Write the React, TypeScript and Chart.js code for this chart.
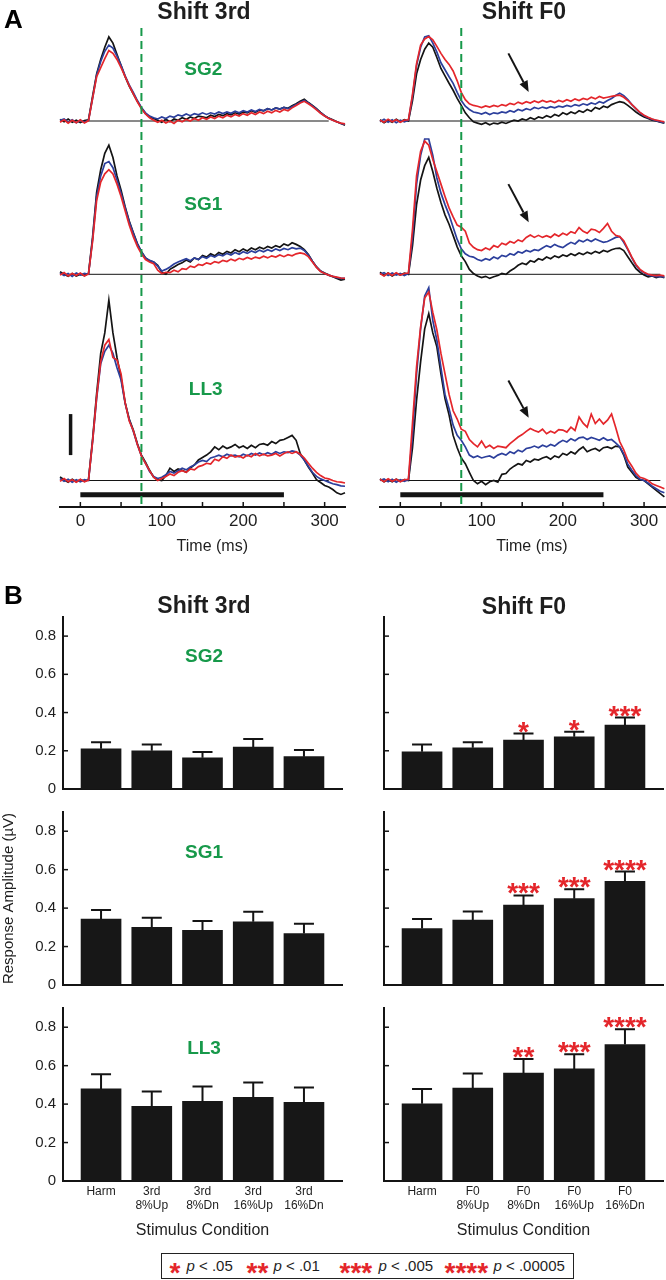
import React, { useEffect, useRef } from "react";
import { Chart, registerables } from "chart.js";

Chart.register(...registerables);

// ---------------- data ----------------
const TIME_MS = [-25, -20, -15, -10, -5, 0, 5, 10, 15, 20, 25, 30, 35, 40, 45, 50, 55, 60, 65, 70, 75, 80, 85, 90, 95, 100, 105, 110, 115, 120, 125, 130, 135, 140, 145, 150, 155, 160, 165, 170, 175, 180, 185, 190, 195, 200, 205, 210, 215, 220, 225, 230, 235, 240, 245, 250, 255, 260, 265, 270, 275, 280, 285, 290, 295, 300, 305, 310, 315, 320, 325];
const TIME_TICKS = [0, 50, 100, 150, 200, 250, 300];
const MARKER_MS = 75;
const STIM_MS = [0, 250];
const STIM_LEVEL_UV = -0.35;
const SCALE_BAR_MS = -12;
const SCALE_BAR_UV = [0.62, 1.62];
const BASELINE_3RD_MS = [0, 305];
const BASELINE_F0_MS = [0, 320];

// Shift 3rd – SG2
const SG2_3RD_BLACK = [0.04, -0.02, 0.05, -0.03, 0.02, -0.04, 0.01, 0.03, 0.6, 1.15,
  1.5, 1.8, 2.05, 1.9, 1.62, 1.35, 1.08, 0.85, 0.66, 0.48,
  0.32, 0.18, 0.1, 0.06, 0.02, -0.03, 0.04, -0.02, 0.05, 0.02,
  0.08, 0.04, 0.1, 0.06, 0.12, 0.1, 0.08, 0.14, 0.11, 0.16,
  0.13, 0.18, 0.15, 0.2, 0.17, 0.22, 0.2, 0.25, 0.21, 0.27,
  0.25, 0.3, 0.27, 0.32, 0.29, 0.33, 0.31, 0.37, 0.42, 0.48,
  0.53, 0.45, 0.38, 0.3, 0.21, 0.13, 0.07, 0.03, -0.02, -0.06,
  -0.1];
const SG2_3RD_BLUE = [0.02, 0.05, -0.03, 0.03, -0.04, 0.02, -0.03, 0.02, 0.55, 1.12,
  1.45, 1.7, 1.85, 1.78, 1.58, 1.36, 1.1, 0.88, 0.7, 0.5,
  0.33, 0.2, 0.12, 0.08, 0.05, 0.1, 0.06, 0.12, 0.09, 0.15,
  0.12, 0.17, 0.13, 0.18, 0.15, 0.2, 0.16, 0.2, 0.17, 0.22,
  0.18, 0.22, 0.19, 0.24, 0.2, 0.25, 0.22, 0.27, 0.23, 0.28,
  0.25, 0.3, 0.27, 0.32, 0.29, 0.33, 0.3, 0.35, 0.4, 0.46,
  0.5, 0.44, 0.37, 0.29, 0.2, 0.13, 0.07, 0.02, -0.02, -0.06,
  -0.08];
const SG2_3RD_RED = [-0.03, 0.03, -0.05, 0.02, -0.04, 0.03, -0.05, 0.01, 0.55, 1.08,
  1.3, 1.52, 1.72, 1.65, 1.5, 1.3, 1.08, 0.86, 0.66, 0.47,
  0.3, 0.17, 0.08, 0.02, -0.03, 0.02, -0.05, 0.0, -0.06, 0.02,
  -0.02, 0.04, 0.0, 0.06, 0.02, 0.08, 0.04, 0.1, 0.06, 0.12,
  0.08, 0.14, 0.1, 0.16, 0.12, 0.18, 0.14, 0.2, 0.16, 0.22,
  0.18, 0.24, 0.2, 0.26, 0.22, 0.28, 0.25, 0.32, 0.38, 0.44,
  0.48, 0.42, 0.35, 0.27, 0.19, 0.12, 0.06, 0.02, -0.02, -0.05,
  -0.07];

// Shift 3rd – SG1
const SG1_3RD_BLACK = [0.06, 0.0, -0.05, 0.02, -0.04, 0.0, -0.03, 0.02, 0.9, 2.0,
  2.55, 2.95, 3.15, 2.85, 2.4, 2.05, 1.65, 1.3, 1.02, 0.75,
  0.55, 0.4, 0.33, 0.3, 0.22, 0.05, 0.0, 0.12, 0.18, 0.24,
  0.28, 0.35, 0.3, 0.4, 0.36, 0.46, 0.42, 0.5, 0.45, 0.53,
  0.49, 0.56, 0.52, 0.6, 0.55, 0.62, 0.57, 0.64, 0.6, 0.66,
  0.62, 0.68, 0.64, 0.7, 0.66, 0.74, 0.7, 0.77, 0.73, 0.68,
  0.6, 0.48, 0.32, 0.18, 0.08, 0.03, -0.02, -0.06, -0.1, -0.14,
  -0.12];
const SG1_3RD_BLUE = [0.03, -0.03, 0.02, -0.05, 0.03, -0.02, 0.02, 0.0, 0.85, 1.9,
  2.4, 2.7, 2.75, 2.6, 2.3, 1.98, 1.62, 1.28, 1.0, 0.74,
  0.55, 0.4, 0.34, 0.3, 0.2, 0.08, 0.12, 0.18, 0.25, 0.3,
  0.34, 0.38, 0.33, 0.4, 0.36, 0.43, 0.39, 0.46, 0.42, 0.48,
  0.45, 0.51, 0.47, 0.53, 0.49, 0.55, 0.51, 0.57, 0.53, 0.59,
  0.55, 0.6, 0.56, 0.62, 0.58, 0.63, 0.6, 0.65, 0.62, 0.64,
  0.58, 0.47, 0.32, 0.18, 0.08, 0.02, -0.02, -0.05, -0.08, -0.1,
  -0.1];
const SG1_3RD_RED = [-0.02, 0.04, -0.04, 0.02, -0.03, 0.03, -0.04, 0.01, 0.8, 1.8,
  2.25, 2.45, 2.55, 2.45, 2.2, 1.9, 1.55, 1.2, 0.92, 0.68,
  0.5, 0.36, 0.3, 0.26, 0.1, 0.02, 0.05, 0.04, 0.1, 0.06,
  0.14, 0.12, 0.2, 0.17, 0.24, 0.22, 0.28, 0.25, 0.31, 0.28,
  0.34, 0.31, 0.37, 0.33, 0.39, 0.36, 0.41, 0.37, 0.42, 0.39,
  0.44, 0.4, 0.45, 0.42, 0.47, 0.43, 0.48, 0.45, 0.5, 0.52,
  0.5, 0.43, 0.3, 0.17, 0.07, 0.02, -0.02, -0.05, -0.07, -0.09,
  -0.1];

// Shift 3rd – LL3
const LL3_3RD_BLACK = [0.09, 0.02, -0.04, 0.03, -0.03, 0.02, -0.02, 0.02, 1.0, 2.12,
  3.1, 3.6, 4.4, 3.6, 3.0, 2.5, 1.9, 1.5, 1.23, 0.9,
  0.62, 0.45, 0.25, 0.08, 0.02, 0.0, 0.12, 0.3, 0.22, 0.28,
  0.25, 0.2, 0.3, 0.38, 0.5, 0.56, 0.62, 0.7, 0.82, 0.75,
  0.84, 0.78, 0.82, 0.88, 0.8, 0.84, 0.78, 0.86, 0.8, 0.88,
  0.9, 0.86, 0.95, 0.9, 0.98, 1.0, 1.05, 1.1, 0.98, 0.66,
  0.5, 0.33, 0.18, 0.02, -0.05, -0.12, -0.16, -0.22, -0.3, -0.34,
  -0.3];
const LL3_3RD_BLUE = [0.05, -0.02, 0.03, -0.04, 0.02, -0.03, 0.02, 0.0, 0.95, 2.0,
  2.85, 3.15, 3.3, 3.1, 2.75, 2.45, 1.88, 1.48, 1.2, 0.88,
  0.6, 0.42, 0.22, 0.1, 0.05, 0.08, 0.14, 0.22, 0.18, 0.24,
  0.3, 0.26, 0.33, 0.38, 0.45, 0.49, 0.46, 0.55, 0.58, 0.62,
  0.58, 0.64, 0.6, 0.62, 0.58, 0.64, 0.6, 0.66, 0.62, 0.67,
  0.63, 0.68, 0.64, 0.7, 0.66, 0.7, 0.68, 0.72, 0.7, 0.62,
  0.5, 0.35, 0.2, 0.1, 0.04, 0.0, -0.04, -0.08, -0.1, -0.13,
  -0.14];
const LL3_3RD_RED = [-0.02, 0.05, -0.03, 0.02, -0.04, 0.03, -0.03, 0.01, 0.95, 2.04,
  2.9, 3.3, 3.44, 3.0, 2.94, 2.6, 1.9, 1.45, 1.22, 0.88,
  0.6, 0.42, 0.24, 0.08, 0.0, 0.05, 0.1, 0.16, 0.12, 0.2,
  0.24, 0.2, 0.28, 0.26, 0.34, 0.37, 0.42, 0.4, 0.52, 0.48,
  0.58, 0.54, 0.62, 0.57, 0.6, 0.55, 0.62, 0.58, 0.66, 0.6,
  0.64, 0.6, 0.62, 0.66, 0.6, 0.66, 0.7, 0.66, 0.7, 0.64,
  0.55, 0.42, 0.3, 0.2, 0.12, 0.06, 0.04, 0.0, -0.03, -0.04,
  -0.06];

// Shift F0 – SG2
const SG2_F0_BLACK = [0.03, -0.04, 0.02, -0.03, 0.04, -0.02, 0.03, 0.0, 0.5, 1.15,
  1.5, 1.75, 1.9, 1.8, 1.55, 1.28, 1.1, 0.92, 0.75, 0.55,
  0.38, 0.2, 0.08, -0.02, -0.05, -0.08, -0.04, -0.09, -0.05, -0.07,
  -0.03, -0.06, -0.02, 0.02, 0.0, 0.05, 0.02, 0.08, 0.04, 0.1,
  0.07, 0.13, 0.09, 0.16, 0.12, 0.2, 0.16, 0.22, 0.18, 0.25,
  0.21, 0.28, 0.24, 0.33, 0.29, 0.36, 0.33, 0.4, 0.44, 0.47,
  0.45, 0.38, 0.3, 0.22, 0.15, 0.1, 0.06, 0.02, 0.0, -0.03,
  -0.05];
const SG2_F0_BLUE = [-0.02, 0.04, -0.03, 0.03, -0.04, 0.02, -0.02, 0.02, 0.6, 1.35,
  1.8, 2.05, 2.08, 1.9, 1.68, 1.42, 1.25, 1.08, 0.92, 0.7,
  0.5, 0.36, 0.28, 0.22, 0.2, 0.17, 0.21, 0.16, 0.2, 0.18,
  0.22, 0.2, 0.25, 0.22, 0.28, 0.25, 0.3, 0.27, 0.33, 0.3,
  0.34, 0.31, 0.35, 0.32, 0.36, 0.34, 0.38, 0.35, 0.4, 0.37,
  0.42, 0.39, 0.44, 0.41, 0.47, 0.44, 0.5, 0.55, 0.62, 0.68,
  0.62, 0.52, 0.4, 0.3, 0.2, 0.13, 0.08, 0.04, 0.01, -0.02,
  -0.04];
const SG2_F0_RED = [0.02, -0.03, 0.04, -0.02, 0.03, -0.03, 0.02, 0.03, 0.65, 1.4,
  1.85, 2.0, 2.06, 1.98, 1.82, 1.65, 1.5, 1.38, 1.22, 0.98,
  0.7, 0.52, 0.42, 0.38, 0.36, 0.33, 0.37, 0.34, 0.38, 0.35,
  0.4, 0.37, 0.43, 0.4, 0.46, 0.42, 0.47, 0.44, 0.49, 0.45,
  0.5, 0.46, 0.49, 0.45, 0.5, 0.47, 0.52, 0.48, 0.54, 0.5,
  0.55, 0.52, 0.58, 0.54, 0.6, 0.56, 0.58, 0.6, 0.62, 0.63,
  0.58, 0.5, 0.4, 0.3, 0.21, 0.14, 0.09, 0.05, 0.02, 0.0,
  -0.02];

// Shift F0 – SG1
const SG1_F0_BLACK = [0.05, -0.03, 0.03, -0.04, 0.02, -0.02, 0.03, 0.0, 0.7, 1.7,
  2.3, 2.65, 2.85, 2.5, 2.1, 1.75, 1.45, 1.22, 0.95, 0.67,
  0.45, 0.31, 0.12, 0.02, -0.04, -0.08, -0.05, -0.1, -0.06, -0.03,
  0.02, 0.0, 0.08, 0.14, 0.22, 0.27, 0.24, 0.33, 0.3, 0.38,
  0.35, 0.42, 0.38, 0.45, 0.41, 0.47, 0.44, 0.5, 0.46, 0.52,
  0.48, 0.54, 0.5, 0.56, 0.52, 0.58, 0.55, 0.6, 0.63, 0.64,
  0.58, 0.43, 0.28, 0.14, 0.05, -0.02, -0.06, -0.04, -0.08, -0.05,
  -0.08];
const SG1_F0_BLUE = [0.0, 0.04, -0.03, 0.03, -0.02, 0.02, -0.03, 0.02, 0.9, 2.2,
  2.9, 3.3, 3.3, 2.9, 2.35, 1.98, 1.7, 1.45, 1.15, 0.85,
  0.62, 0.5, 0.44, 0.42, 0.36, 0.33, 0.38, 0.35, 0.42, 0.38,
  0.46, 0.43, 0.5, 0.47, 0.55, 0.52, 0.58, 0.55, 0.6, 0.58,
  0.64, 0.7, 0.66, 0.73, 0.68, 0.65, 0.72, 0.78, 0.74, 0.83,
  0.79, 0.85, 0.8, 0.86, 0.82, 0.78, 0.8, 0.85, 0.9, 0.92,
  0.78, 0.6, 0.4, 0.22, 0.1, 0.04, -0.02, -0.04, -0.06, -0.05,
  -0.07];
const SG1_F0_RED = [0.02, -0.04, 0.03, -0.03, 0.04, -0.02, 0.02, 0.03, 1.1, 2.4,
  3.0, 3.25, 3.15, 2.8, 2.5, 2.2, 1.9, 1.62, 1.4, 1.2,
  1.15, 1.05, 0.76, 0.66, 0.6, 0.58, 0.64, 0.6, 0.7, 0.66,
  0.76, 0.72, 0.8, 0.76, 0.84, 0.8, 0.9, 0.96, 0.9, 0.95,
  0.9, 0.94, 0.9, 0.98, 0.93, 1.0, 0.96, 1.04, 1.0, 1.14,
  1.05, 1.0, 1.1, 1.08, 1.02, 1.12, 1.24, 1.05, 0.95, 0.92,
  0.82, 0.62, 0.42, 0.24, 0.12, 0.05, 0.0, -0.02, -0.03, -0.02,
  -0.04];

// Shift F0 – LL3
const LL3_F0_BLACK = [0.04, -0.03, 0.02, -0.03, 0.03, -0.02, 0.02, 0.0, 0.8, 1.96,
  2.9, 3.7, 4.07, 3.6, 3.26, 2.6, 2.0, 1.6, 1.1, 0.8,
  0.55, 0.41, 0.2, 0.0, -0.08, -0.02, -0.1, -0.03, 0.0, -0.04,
  0.15, 0.17, 0.28, 0.35, 0.41, 0.38, 0.49, 0.45, 0.52, 0.5,
  0.55, 0.58, 0.52, 0.6, 0.56, 0.66, 0.62, 0.7, 0.65, 0.75,
  0.82, 0.7, 0.75, 0.78, 0.72, 0.8, 0.82, 0.78, 0.84, 0.82,
  0.62, 0.33, 0.2, 0.08, 0.02, 0.0, -0.08, -0.16, -0.24, -0.32,
  -0.4];
const LL3_F0_BLUE = [0.0, 0.04, -0.03, 0.03, -0.04, 0.02, -0.02, 0.02, 1.1, 2.6,
  3.7, 4.5, 4.7, 3.9, 3.42, 2.75, 2.1, 1.75, 1.35, 1.1,
  0.98, 0.82, 0.62, 0.56, 0.6, 0.55, 0.58, 0.6, 0.55, 0.62,
  0.66, 0.62, 0.7, 0.66, 0.74, 0.7, 0.78, 0.8, 0.84, 0.8,
  0.86, 0.82, 0.88, 0.84, 0.92, 0.98, 0.94, 1.02, 0.97, 1.04,
  1.06, 1.0, 1.05, 1.02, 0.98, 1.04, 0.98, 1.0, 0.92, 0.82,
  0.65, 0.4, 0.25, 0.12, 0.03, 0.0, -0.06, -0.14, -0.2, -0.26,
  -0.3];
const LL3_F0_RED = [0.03, -0.03, 0.04, -0.02, 0.03, -0.03, 0.02, 0.03, 1.4, 2.77,
  3.75, 4.45, 4.6, 4.1, 3.67, 3.1, 2.6, 2.1, 1.7, 1.5,
  1.25, 1.2, 1.0, 0.9, 0.82, 0.96, 0.8, 0.86, 0.78, 0.84,
  0.82, 0.8, 0.9, 0.98, 1.06, 1.12, 1.2, 1.27, 1.22, 1.18,
  1.25, 1.14, 1.2, 1.16, 1.24, 1.23, 1.18, 1.3, 1.22, 1.55,
  1.4, 1.3, 1.62, 1.39, 1.5, 1.38, 1.47, 1.62, 1.3, 0.95,
  0.75, 0.5, 0.35, 0.18, 0.08, 0.05, 0.0, -0.08, -0.12, -0.16,
  -0.2];

// Panel B bars
const CONDITIONS_3RD = [["Harm"], ["3rd", "8%Up"], ["3rd", "8%Dn"], ["3rd", "16%Up"], ["3rd", "16%Dn"]];
const CONDITIONS_F0 = [["Harm"], ["F0", "8%Up"], ["F0", "8%Dn"], ["F0", "16%Up"], ["F0", "16%Dn"]];
const Y_TICKS = [0, 0.2, 0.4, 0.6, 0.8];

const AMP_SG2_3RD = [0.21, 0.2, 0.163, 0.22, 0.169];
const ERR_SG2_3RD = [0.035, 0.033, 0.03, 0.041, 0.035];
const AMP_SG1_3RD = [0.343, 0.3, 0.284, 0.329, 0.268];
const ERR_SG1_3RD = [0.047, 0.05, 0.049, 0.052, 0.05];
const AMP_LL3_3RD = [0.479, 0.388, 0.414, 0.435, 0.409];
const ERR_LL3_3RD = [0.076, 0.077, 0.077, 0.077, 0.077];

const AMP_SG2_F0 = [0.195, 0.216, 0.256, 0.273, 0.334];
const ERR_SG2_F0 = [0.038, 0.028, 0.034, 0.027, 0.04];
const AMP_SG1_F0 = [0.294, 0.338, 0.416, 0.449, 0.539];
const ERR_SG1_F0 = [0.049, 0.045, 0.05, 0.049, 0.051];
const AMP_LL3_F0 = [0.402, 0.484, 0.562, 0.583, 0.71];
const ERR_LL3_F0 = [0.077, 0.075, 0.073, 0.077, 0.08];

const STARS_NONE = [0, 0, 0, 0, 0];
const STARS_SG2_F0 = [0, 0, 1, 1, 3];
const STARS_SG1_F0 = [0, 0, 3, 3, 4];
const STARS_LL3_F0 = [0, 0, 2, 3, 4];

const LEGEND_STARS = [1, 2, 3, 4];
const LEGEND_P = [".05", ".01", ".005", ".00005"];

// ---------------- styles ----------------
const FONT = '"Liberation Sans", Arial, Helvetica, sans-serif';
const RED = "#e4262b";
const BLUE = "#2c3f9c";
const BLACK = "#141414";
const GREEN = "#17994a";
const BAR = "#171717";
const TEXT = "#1e1e1e";

Chart.defaults.font.family = FONT;

// ---------------- trace charts ----------------
type Row = {
  key: string; label: string; min: number; max: number; weight: number;
  black: number[]; blue: number[]; red: number[];
  labelAt?: number[]; arrow?: number[];
};

const ROWS_3RD: Row[] = [
  { key: "ySG2", label: "SG2", min: -0.463, max: 2.268, weight: 112, black: SG2_3RD_BLACK, blue: SG2_3RD_BLUE, red: SG2_3RD_RED, labelAt: [151, 1.24] },
  { key: "ySG1", label: "SG1", min: -0.383, max: 3.276, weight: 150, black: SG1_3RD_BLACK, blue: SG1_3RD_BLUE, red: SG1_3RD_RED, labelAt: [151, 1.69] },
  { key: "yLL3", label: "LL3", min: -0.646, max: 4.646, weight: 217, black: LL3_3RD_BLACK, blue: LL3_3RD_BLUE, red: LL3_3RD_RED, labelAt: [154, 2.22] },
];
const ROWS_F0: Row[] = [
  { key: "ySG2", label: "SG2", min: -0.463, max: 2.268, weight: 112, black: SG2_F0_BLACK, blue: SG2_F0_BLUE, red: SG2_F0_RED, arrow: [133, 1.65, 158, 0.71] },
  { key: "ySG1", label: "SG1", min: -0.383, max: 3.276, weight: 150, black: SG1_F0_BLACK, blue: SG1_F0_BLUE, red: SG1_F0_RED, arrow: [133, 2.2, 158, 1.27] },
  { key: "yLL3", label: "LL3", min: -0.646, max: 4.646, weight: 217, black: LL3_F0_BLACK, blue: LL3_F0_BLUE, red: LL3_F0_RED, arrow: [133, 2.44, 158, 1.53] },
];

function drawArrow(ctx: CanvasRenderingContext2D, x0: number, y0: number, x1: number, y1: number) {
  const ang = Math.atan2(y1 - y0, x1 - x0);
  const head = 11;
  const half = 4.5;
  const bx = x1 - head * Math.cos(ang);
  const by = y1 - head * Math.sin(ang);
  ctx.strokeStyle = BLACK;
  ctx.fillStyle = BLACK;
  ctx.lineWidth = 2;
  ctx.beginPath();
  ctx.moveTo(x0, y0);
  ctx.lineTo(bx, by);
  ctx.stroke();
  ctx.beginPath();
  ctx.moveTo(x1, y1);
  ctx.lineTo(bx + half * Math.sin(ang), by - half * Math.cos(ang));
  ctx.lineTo(bx - half * Math.sin(ang), by + half * Math.cos(ang));
  ctx.closePath();
  ctx.fill();
}

function traceConfig(rows: Row[], xMax: number, baseline: number[], withScaleBar: boolean, showLabels: boolean, padLeft: number, padRight: number): any {
  const datasets: any[] = [];
  const line = (data: any[], yAxisID: string, color: string, width: number) => ({
    type: "line", data, yAxisID, borderColor: color, borderWidth: width, pointRadius: 0,
    clip: false, tension: 0, borderCapStyle: "butt", fill: false,
  });
  rows.forEach((r) => {
    datasets.push(line(TIME_MS.map((t, i) => ({ x: t, y: r.red[i] })), r.key, RED, 1.7));
    datasets.push(line(TIME_MS.map((t, i) => ({ x: t, y: r.blue[i] })), r.key, BLUE, 1.7));
    datasets.push(line(TIME_MS.map((t, i) => ({ x: t, y: r.black[i] })), r.key, BLACK, 1.7));
  });
  rows.forEach((r) => {
    datasets.push(line(baseline.map((t) => ({ x: t, y: 0 })), r.key, BLACK, 1));
  });
  datasets.push(line(STIM_MS.map((t) => ({ x: t, y: STIM_LEVEL_UV })), "yLL3", BLACK, 5));
  if (withScaleBar) {
    datasets.push(line(SCALE_BAR_UV.map((v) => ({ x: SCALE_BAR_MS, y: v })), "yLL3", BLACK, 3.5));
  }

  const scales: any = {
    x: {
      type: "linear", min: -25, max: xMax, position: "bottom", offset: false,
      grid: { display: false, drawTicks: false },
      border: { display: true, width: 2, color: BLACK },
      ticks: {
        autoSkip: false, maxRotation: 0, minRotation: 0, padding: 4, color: TEXT,
        font: { family: FONT, size: 17 },
        callback: (v: number) => (v % 100 === 0 ? String(v) : ""),
      },
      afterBuildTicks: (s: any) => { s.ticks = TIME_TICKS.map((v) => ({ value: v })); },
      afterFit: (s: any) => { s.height = 50; },
      title: { display: false },
    },
  };
  rows.forEach((r) => {
    scales[r.key] = {
      type: "linear", display: false, position: "right", stack: "rows", stackWeight: r.weight,
      min: r.min, max: r.max,
    };
  });

  const decor = {
    id: "traceDecor",
    afterDatasetsDraw(chart: any) {
      const { ctx, chartArea } = chart;
      const xs = chart.scales.x;
      ctx.save();
      const dx = xs.getPixelForValue(MARKER_MS);
      ctx.strokeStyle = GREEN;
      ctx.lineWidth = 2;
      ctx.setLineDash([8, 5]);
      ctx.beginPath();
      ctx.moveTo(dx, chartArea.top);
      ctx.lineTo(dx, chartArea.bottom);
      ctx.stroke();
      ctx.setLineDash([]);
      ctx.strokeStyle = BLACK;
      ctx.lineWidth = 1.5;
      TIME_TICKS.forEach((t) => {
        const px = xs.getPixelForValue(t);
        ctx.beginPath();
        ctx.moveTo(px, chartArea.bottom);
        ctx.lineTo(px, chartArea.bottom - 5);
        ctx.stroke();
      });
      rows.forEach((r) => {
        const ys = chart.scales[r.key];
        if (showLabels && r.labelAt) {
          ctx.fillStyle = GREEN;
          ctx.font = `bold 19px ${FONT}`;
          ctx.textAlign = "center";
          ctx.textBaseline = "middle";
          ctx.fillText(r.label, xs.getPixelForValue(r.labelAt[0]), ys.getPixelForValue(r.labelAt[1]));
        }
        if (r.arrow) {
          drawArrow(ctx, xs.getPixelForValue(r.arrow[0]), ys.getPixelForValue(r.arrow[1]), xs.getPixelForValue(r.arrow[2]), ys.getPixelForValue(r.arrow[3]));
        }
      });
      ctx.fillStyle = TEXT;
      ctx.font = `16px ${FONT}`;
      ctx.textAlign = "center";
      ctx.textBaseline = "middle";
      ctx.fillText("Time (ms)", xs.getPixelForValue(162), chartArea.bottom + 40);
      ctx.restore();
    },
  };

  return {
    type: "line",
    data: { datasets },
    options: {
      animation: false, responsive: false, maintainAspectRatio: false,
      layout: { padding: { left: padLeft, right: padRight, top: 28, bottom: 0 } },
      plugins: { legend: { display: false }, tooltip: { enabled: false }, title: { display: false } },
      scales,
    },
    plugins: [decor],
  };
}

// ---------------- bar charts ----------------
type BarProps = {
  values: number[]; errors: number[]; stars: number[]; label?: string;
  yLabels: boolean; yTitle?: string; xLabels?: string[][]; axisWidth: number;
  pad: { top: number; bottom: number; left: number; right: number };
};

function barConfig(p: BarProps): any {
  const decor = {
    id: "barDecor",
    afterDatasetsDraw(chart: any) {
      const { ctx, chartArea } = chart;
      const xs = chart.scales.x;
      const ys = chart.scales.y;
      ctx.save();
      ctx.strokeStyle = BLACK;
      ctx.lineWidth = 2;
      p.values.forEach((v, i) => {
        const px = xs.getPixelForValue(i);
        const top = ys.getPixelForValue(v);
        const cap = ys.getPixelForValue(v + p.errors[i]);
        ctx.beginPath();
        ctx.moveTo(px, top);
        ctx.lineTo(px, cap);
        ctx.moveTo(px - 10, cap);
        ctx.lineTo(px + 10, cap);
        ctx.stroke();
        if (p.stars[i] > 0) {
          ctx.fillStyle = RED;
          ctx.font = `bold 28px ${FONT}`;
          ctx.textAlign = "center";
          ctx.textBaseline = "alphabetic";
          ctx.fillText("*".repeat(p.stars[i]), px, cap + 7);
        }
      });
      ctx.lineWidth = 1.5;
      Y_TICKS.forEach((v) => {
        if (v === 0) return;
        const py = ys.getPixelForValue(v);
        ctx.beginPath();
        ctx.moveTo(chartArea.left, py);
        ctx.lineTo(chartArea.left + 5, py);
        ctx.stroke();
      });
      if (p.label) {
        ctx.fillStyle = GREEN;
        ctx.font = `bold 19px ${FONT}`;
        ctx.textAlign = "center";
        ctx.textBaseline = "middle";
        ctx.fillText(p.label, xs.getPixelForValue(2.03), ys.getPixelForValue(0.69));
      }
      ctx.restore();
    },
  };
  const xl = p.xLabels;
  return {
    type: "bar",
    data: {
      datasets: [{
        data: p.values.map((v, i) => ({ x: i, y: v })),
        backgroundColor: BAR, borderWidth: 0, barThickness: 40,
      }],
    },
    options: {
      animation: false, responsive: false, maintainAspectRatio: false,
      layout: { padding: p.pad },
      plugins: { legend: { display: false }, tooltip: { enabled: false } },
      scales: {
        x: {
          type: "linear", min: -0.75, max: 4.75, position: "bottom", offset: false,
          grid: { display: false, drawTicks: false, offset: false },
          border: { display: true, width: 2, color: BLACK },
          ticks: {
            display: !!xl, autoSkip: false, maxRotation: 0, minRotation: 0, padding: 3.5, color: TEXT,
            font: { family: FONT, size: 12, lineHeight: 1.2 },
            callback: (v: number) => (xl ? xl[v] : ""),
          },
          afterBuildTicks: (s: any) => { s.ticks = p.values.map((_, i) => ({ value: i })); },
          afterFit: (s: any) => { s.height = xl ? 62 : 0; },
          title: {
            display: !!xl, text: "Stimulus Condition", color: TEXT,
            font: { family: FONT, size: 16 }, padding: { top: 0, bottom: 3 },
          },
        },
        y: {
          type: "linear", min: 0, max: 0.9, position: "left",
          grid: { display: false, drawTicks: false },
          border: { display: true, width: 2, color: BLACK },
          ticks: {
            display: p.yLabels, padding: 7, color: TEXT, font: { family: FONT, size: 15 },
            callback: (v: number) => (v === 0 ? "0" : v.toFixed(1)),
          },
          afterBuildTicks: (s: any) => { s.ticks = Y_TICKS.map((v) => ({ value: v })); },
          afterFit: (s: any) => { s.width = p.axisWidth; },
          title: {
            display: !!p.yTitle, text: p.yTitle || "", color: TEXT,
            font: { family: FONT, size: 15 }, padding: { top: 0, bottom: 0 },
          },
        },
      },
    },
    plugins: [decor],
  };
}

// ---------------- components ----------------
function ChartCanvas({ left, top, width, height, make }: { left: number; top: number; width: number; height: number; make: () => any }) {
  const ref = useRef<HTMLCanvasElement | null>(null);
  useEffect(() => {
    const chart = new Chart(ref.current as HTMLCanvasElement, make());
    return () => chart.destroy();
  }, []);
  return (
    <canvas
      ref={ref}
      width={width}
      height={height}
      style={{ position: "absolute", left, top, width, height, display: "block" }}
    />
  );
}

function Heading({ text, cx, top, size }: { text: string; cx: number; top: number; size: number }) {
  return (
    <div style={{ position: "absolute", left: cx, top, transform: "translateX(-50%)", font: `bold ${size}px ${FONT}`, lineHeight: `${size}px`, whiteSpace: "nowrap", color: TEXT }}>
      {text}
    </div>
  );
}

export default function App() {
  const leftPad = { left: 0, right: 8 };
  const rightPad = { left: 0, right: 3 };
  return (
    <div style={{ position: "absolute", left: 0, top: 0, width: 666, height: 1280, background: "#fff", overflow: "hidden", fontFamily: FONT }}>
      {/* Panel A */}
      <ChartCanvas left={0} top={0} width={350} height={557} make={() => traceConfig(ROWS_3RD, 325, BASELINE_3RD_MS, true, true, 60, 5)} />
      <ChartCanvas left={320} top={0} width={346} height={557} make={() => traceConfig(ROWS_F0, 327, BASELINE_F0_MS, false, false, 60, 0)} />

      {/* Panel B – Shift 3rd */}
      <ChartCanvas left={0} top={600} width={350} height={207} make={() => barConfig({ values: AMP_SG2_3RD, errors: ERR_SG2_3RD, stars: STARS_NONE, label: "SG2", yLabels: true, axisWidth: 63, pad: { top: 17, bottom: 18, ...leftPad } })} />
      <ChartCanvas left={0} top={794} width={350} height={209} make={() => barConfig({ values: AMP_SG1_3RD, errors: ERR_SG1_3RD, stars: STARS_NONE, label: "SG1", yLabels: true, yTitle: "Response Amplitude (µV)", axisWidth: 63, pad: { top: 18, bottom: 18, ...leftPad } })} />
      <ChartCanvas left={0} top={990} width={350} height={255} make={() => barConfig({ values: AMP_LL3_3RD, errors: ERR_LL3_3RD, stars: STARS_NONE, label: "LL3", yLabels: true, xLabels: CONDITIONS_3RD, axisWidth: 63, pad: { top: 18, bottom: 2, ...leftPad } })} />

      {/* Panel B – Shift F0 */}
      <ChartCanvas left={330} top={600} width={336} height={207} make={() => barConfig({ values: AMP_SG2_F0, errors: ERR_SG2_F0, stars: STARS_SG2_F0, yLabels: false, axisWidth: 54, pad: { top: 17, bottom: 18, ...rightPad } })} />
      <ChartCanvas left={330} top={794} width={336} height={209} make={() => barConfig({ values: AMP_SG1_F0, errors: ERR_SG1_F0, stars: STARS_SG1_F0, yLabels: false, axisWidth: 54, pad: { top: 18, bottom: 18, ...rightPad } })} />
      <ChartCanvas left={330} top={990} width={336} height={255} make={() => barConfig({ values: AMP_LL3_F0, errors: ERR_LL3_F0, stars: STARS_LL3_F0, yLabels: false, xLabels: CONDITIONS_F0, axisWidth: 54, pad: { top: 18, bottom: 2, ...rightPad } })} />

      {/* Headings */}
      <div style={{ position: "absolute", left: 4, top: 6, font: `bold 26px ${FONT}`, lineHeight: "26px", color: "#000" }}>A</div>
      <div style={{ position: "absolute", left: 4, top: 582, font: `bold 26px ${FONT}`, lineHeight: "26px", color: "#000" }}>B</div>
      <Heading text="Shift 3rd" cx={204} top={0} size={23} />
      <Heading text="Shift F0" cx={524} top={0} size={23} />
      <Heading text="Shift 3rd" cx={204} top={594} size={23} />
      <Heading text="Shift F0" cx={524} top={595} size={23} />

      {/* Legend */}
      <div style={{ position: "absolute", left: 161, top: 1253, width: 413, height: 26, border: "1.5px solid #222", boxSizing: "border-box" }}>
        {LEGEND_STARS.map((n, i) => {
          const starLeft = [7.5, 84.5, 177.5, 282.5][i];
          const textLeft = [24.5, 111.5, 216.5, 331.5][i];
          return (
            <React.Fragment key={i}>
              <span style={{ position: "absolute", left: starLeft, top: 4.8, font: `bold 28px ${FONT}`, lineHeight: "28px", color: RED, whiteSpace: "nowrap" }}>
                {"*".repeat(n)}
              </span>
              <span style={{ position: "absolute", left: textLeft, top: 4.3, font: `15px ${FONT}`, lineHeight: "15px", color: TEXT, whiteSpace: "nowrap" }}>
                <i>p</i>{" < " + LEGEND_P[i]}
              </span>
            </React.Fragment>
          );
        })}
      </div>
    </div>
  );
}
